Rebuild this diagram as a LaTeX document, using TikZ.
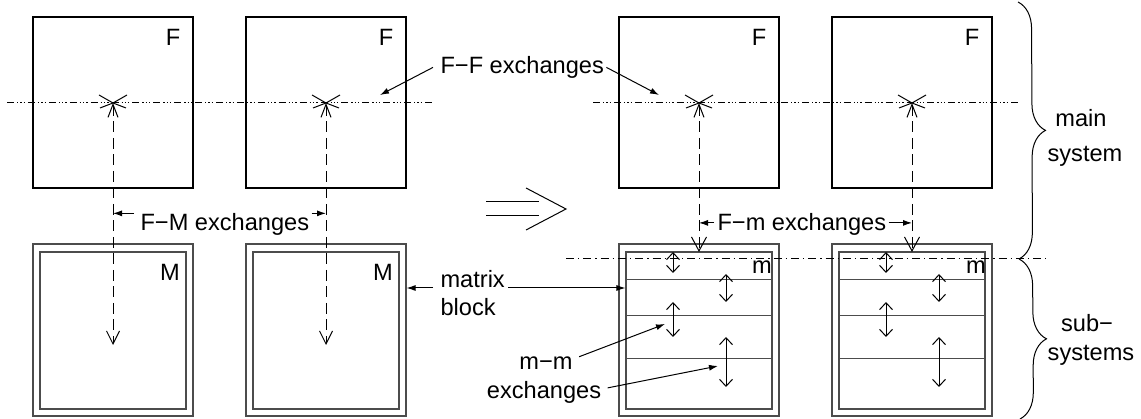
\documentclass[tikz,border=0pt]{standalone}
\usepackage{fontspec}
\setmainfont{Liberation Sans}
\usetikzlibrary{arrows.meta,decorations.pathreplacing}
\begin{document}
\begin{tikzpicture}[x=1pt,y=-1pt,line width=1.1pt,
  fbox/.style={draw,minimum width=160pt,minimum height=171pt,inner sep=0pt},
  mouter/.style={draw=black!70,minimum width=160pt,minimum height=172pt,inner sep=0pt},
  minner/.style={draw=black!70,minimum width=146pt,minimum height=157pt,inner sep=0pt},
  lbl/.style={font=\fontsize{23.6}{28}\selectfont,inner sep=0pt},
  ffline/.style={line width=1pt,dash pattern=on 7pt off 3pt on 1.3pt off 2pt on 1.3pt off 2pt on 1.3pt off 3pt},
  mline/.style={line width=1pt,dash pattern=on 8pt off 4pt on 1.3pt off 4pt},
  dasharrow/.style={line width=1pt,dash pattern=on 11pt off 5.5pt,
     {Straight Barb[length=13pt,width=10pt]}-{Straight Barb[length=13pt,width=13pt]}},
  dasharrowdown/.style={line width=1pt,dash pattern=on 11pt off 5.5pt,
     {Straight Barb[length=13pt,width=10pt]}-{Straight Barb[length=14pt,width=15pt]}},
  lab/.style={line width=1pt,-{Latex[length=9pt,width=6pt]}},
  dbl/.style={line width=1pt,{Straight Barb[length=7pt,width=13pt]}-{Straight Barb[length=7pt,width=13pt]}},
  sep/.style={draw=black!70,line width=1pt},
  brc/.style={line width=1pt,decorate,decoration={brace,amplitude=27pt}}
]
\useasboundingbox (0,0) rectangle (1141,419);

% F boxes
\node[fbox] (F1) at (113,102.5) {};
\node[fbox] (F2) at (326,102.5) {};
\node[fbox] (F3) at (699,102.5) {};
\node[fbox] (F4) at (912,102.5) {};
\node[lbl,anchor=base] (F1l) at (173,46) {F};
\node[lbl,anchor=base] (F2l) at (386,46) {F};
\node[lbl,anchor=base] (F3l) at (759,46) {F};
\node[lbl,anchor=base] (F4l) at (972,46) {F};

% M boxes
\node[mouter] (M1) at (113,330) {};
\node[minner] (M1i) at (113,330.5) {};
\node[mouter] (M2) at (326,330) {};
\node[minner] (M2i) at (326,330.5) {};
\node[mouter] (M3) at (699,330) {};
\node[minner] (M3i) at (699,330.5) {};
\node[mouter] (M4) at (912,330) {};
\node[minner] (M4i) at (912,330.5) {};
\node[lbl,anchor=base] (M1l) at (170,281) {M};
\node[lbl,anchor=base] (M2l) at (383,281) {M};
\node[lbl,anchor=base] (M3l) at (762,274) {m};
\node[lbl,anchor=base] (M4l) at (976,274) {m};

% sub-system layers
\foreach \yy in {280,316,359}{
  \draw[sep] (626,\yy) -- (772,\yy);
  \draw[sep] (839,\yy) -- (985,\yy);
}

% dash-dot lines
\draw[ffline] (7,103) -- (432,103);
\draw[ffline] (593,103) -- (1018,103);
\draw[mline] (566,259) -- (1047,259);

% stars and dashed exchange arrows
\coordinate (s1) at (113,103);
\coordinate (s2) at (326,103);
\coordinate (s3) at (699,103);
\coordinate (s4) at (912,103);
\coordinate (e1) at (113,345);
\coordinate (e2) at (326,345);
\coordinate (e3) at (699,252);
\coordinate (e4) at (912,252);
\foreach \s in {s1,s2,s3,s4}{
  \draw[line width=1pt] (\s) -- ++(-14,-8);
  \draw[line width=1pt] (\s) -- ++(14,-8);
  \draw[line width=1pt] (\s) -- ++(-13,5);
  \draw[line width=1pt] (\s) -- ++(13,5);
}
\draw[dasharrow] (s1) -- (e1);
\draw[dasharrow] (s2) -- (e2);
\draw[dasharrowdown] (s3) -- (e3);
\draw[dasharrowdown] (s4) -- (e4);

% m-m exchange arrows
\coordinate (a1t) at (673,252); \coordinate (a1b) at (673,273);
\coordinate (a2t) at (726,274); \coordinate (a2b) at (726,302);
\coordinate (a3t) at (673,302); \coordinate (a3b) at (673,337);
\coordinate (a4t) at (726,337); \coordinate (a4b) at (726,387);
\coordinate (b1t) at (886,252); \coordinate (b1b) at (886,273);
\coordinate (b2t) at (939,274); \coordinate (b2b) at (939,302);
\coordinate (b3t) at (886,302); \coordinate (b3b) at (886,337);
\coordinate (b4t) at (939,337); \coordinate (b4b) at (939,387);
\draw[dbl] (a1t) -- (a1b);
\draw[dbl] (a2t) -- (a2b);
\draw[dbl] (a3t) -- (a3b);
\draw[dbl] (a4t) -- (a4b);
\draw[dbl] (b1t) -- (b1b);
\draw[dbl] (b2t) -- (b2b);
\draw[dbl] (b3t) -- (b3b);
\draw[dbl] (b4t) -- (b4b);

% labels
\node[lbl,anchor=base west] (ff) at (440,73.5) {F−F exchanges};
\coordinate (ffA) at (380,95);
\coordinate (ffB) at (659,95);
\draw[lab] ([xshift=-7pt]ff.west) -- (ffA);
\draw[lab] ([xshift=2pt]ff.east) -- (ffB);

\node[lbl,anchor=base west] (fm) at (140,231) {F−M exchanges};
\draw[lab] ([xshift=-6pt]fm.north west) -- (fm.north west -| s1);
\draw[lab] ([xshift=2pt]fm.north east) -- (fm.north east -| s2);

\node[lbl,anchor=base west] (fmm) at (717,231) {F−m exchanges};
\draw[lab] ([xshift=-3pt,yshift=2pt]fmm.west) -- ([yshift=2pt]fmm.west -| s3);
\draw[lab] ([xshift=2pt,yshift=2pt]fmm.east) -- ([yshift=2pt]fmm.east -| s4);

\node[lbl,anchor=base west] (mb1) at (440,288) {matrix};
\node[lbl,anchor=base west] (mb2) at (440,316) {block};
\draw[lab] ([xshift=-7pt]mb1.base west) -- (mb1.base west -| M2.east);
\draw[lab] ([xshift=3pt]mb1.base east) -- (mb1.base east -| M3i.west);

\node[lbl,anchor=base] (mm1) at (546,370) {m−m};
\node[lbl,anchor=base] (mm2) at (544,399) {exchanges};
\coordinate (mmA) at (665,324);
\coordinate (mmB) at (718,366);
\draw[lab] ([xshift=6pt]mm1.north east) -- (mmA);
\draw[lab] ([xshift=6pt,yshift=5pt]mm2.east) -- (mmB);

% braces
\draw[brc] (1018,2) -- (1019,259);
\draw[brc] (1019,259) -- (1020,419);
\node[lbl,anchor=base] (ms1) at (1081,127) {main};
\node[lbl,anchor=base] (ms2) at (1085,162) {system};
\node[lbl,anchor=base] (ss1) at (1087,332) {sub−};
\node[lbl,anchor=base] (ss2) at (1091,361) {systems};

% implication arrow
\draw[line width=1pt] (486,202) -- (539,202);
\draw[line width=1pt] (486,216) -- (539,216);
\draw[line width=1pt] (526,188) -- (566,209) -- (526,230);
\end{tikzpicture}
\end{document}
